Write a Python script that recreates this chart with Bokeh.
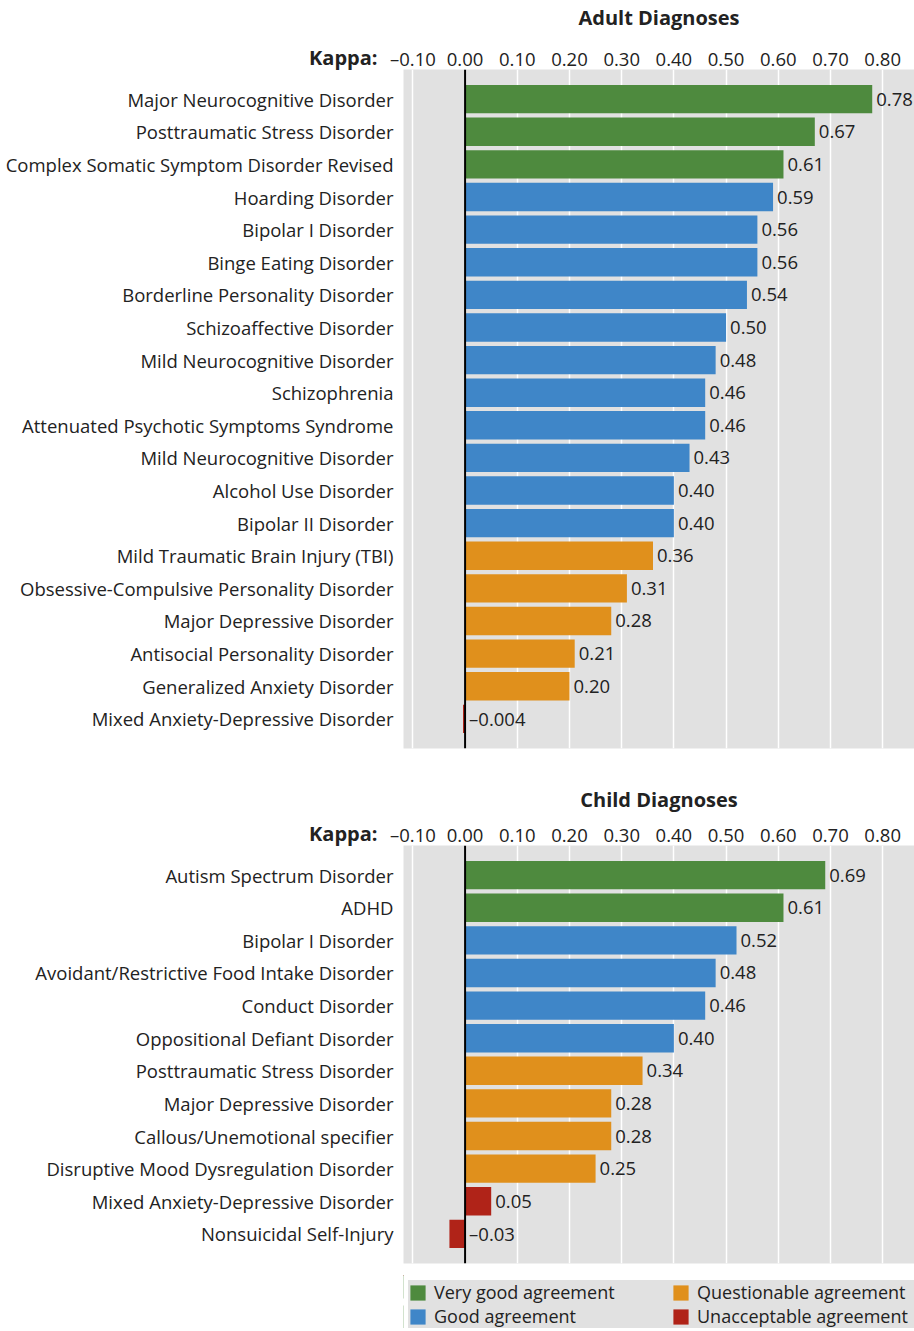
from bokeh.plotting import figure
from bokeh.models import (ColumnDataSource, Range1d, FixedTicker, Span,
                          Legend, LegendItem)
from bokeh.layouts import column
from bokeh.embed import file_html
from bokeh.resources import INLINE
from bokeh.core.properties import value

# ---------------- data ----------------
ADULT_LABELS = [
    "Major Neurocognitive Disorder",
    "Posttraumatic Stress Disorder",
    "Complex Somatic Symptom Disorder Revised",
    "Hoarding Disorder",
    "Bipolar I Disorder",
    "Binge Eating Disorder",
    "Borderline Personality Disorder",
    "Schizoaffective Disorder",
    "Mild Neurocognitive Disorder",
    "Schizophrenia",
    "Attenuated Psychotic Symptoms Syndrome",
    "Mild Neurocognitive Disorder",
    "Alcohol Use Disorder",
    "Bipolar II Disorder",
    "Mild Traumatic Brain Injury (TBI)",
    "Obsessive-Compulsive Personality Disorder",
    "Major Depressive Disorder",
    "Antisocial Personality Disorder",
    "Generalized Anxiety Disorder",
    "Mixed Anxiety-Depressive Disorder",
]
ADULT_KAPPA = [0.78, 0.67, 0.61, 0.59, 0.56, 0.56, 0.54, 0.50, 0.48, 0.46,
               0.46, 0.43, 0.40, 0.40, 0.36, 0.31, 0.28, 0.21, 0.20, -0.004]

CHILD_LABELS = [
    "Autism Spectrum Disorder",
    "ADHD",
    "Bipolar I Disorder",
    "Avoidant/Restrictive Food Intake Disorder",
    "Conduct Disorder",
    "Oppositional Defiant Disorder",
    "Posttraumatic Stress Disorder",
    "Major Depressive Disorder",
    "Callous/Unemotional specifier",
    "Disruptive Mood Dysregulation Disorder",
    "Mixed Anxiety-Depressive Disorder",
    "Nonsuicidal Self-Injury",
]
CHILD_KAPPA = [0.69, 0.61, 0.52, 0.48, 0.46, 0.40, 0.34, 0.28, 0.28, 0.25,
               0.05, -0.03]

TICK_VALUES = [-0.1, 0.0, 0.1, 0.2, 0.3, 0.4, 0.5, 0.6, 0.7, 0.8]
TICK_LABELS = ["\u20130.10", "0.00", "0.10", "0.20", "0.30", "0.40",
               "0.50", "0.60", "0.70", "0.80"]

CLASS_NAMES = ["Very good agreement", "Good agreement",
               "Questionable agreement", "Unacceptable agreement"]
CLASS_LOWER = [0.60, 0.40, 0.20, -1.0]
CLASS_COLORS = ["#4e8a3e", "#3f86c8", "#e0901c", "#b02318"]

KAPPA_TEXT = "Kappa:"

# ---------------- style ----------------
FONT = "Open Sans"
FS = "18.5px"
FS_LEG = "18px"
FS_BOLD = "20px"
TXT = "#222222"
BG = "#e1e1e1"
X_START, X_END = -0.118, 0.861
ROW_PAD = 0.91
BAR_H = 0.87
LEFT = 403
FRAME_W = 914 - LEFT


def fmt(v):
    s = f"{v:.3f}" if abs(v) < 0.01 else f"{v:.2f}"
    return s.replace("-", "\u2013")


def klass(v):
    for i, lo in enumerate(CLASS_LOWER):
        if v >= lo:
            return i
    return len(CLASS_LOWER) - 1


def make_panel(title, labels, kappa, frame_h, top_border, bottom_border,
               title_standoff):
    n = len(labels)
    p = figure(frame_width=FRAME_W, frame_height=frame_h,
               x_range=Range1d(X_START, X_END),
               y_range=Range1d(n - 1 + ROW_PAD, -ROW_PAD),
               x_axis_location="above",
               output_backend="svg", toolbar_location=None,
               min_border_left=LEFT, min_border_right=0,
               min_border_top=top_border, min_border_bottom=bottom_border)

    p.background_fill_color = BG
    p.border_fill_color = "white"
    p.outline_line_color = None

    p.xgrid.ticker = FixedTicker(ticks=TICK_VALUES)
    p.xgrid.grid_line_color = "white"
    p.xgrid.grid_line_width = 1.5
    p.ygrid.visible = False

    xa = p.xaxis[0]
    xa.ticker = FixedTicker(ticks=TICK_VALUES)
    xa.major_label_overrides = dict(zip(TICK_VALUES, TICK_LABELS))
    xa.axis_line_color = None
    xa.major_tick_line_color = None
    xa.minor_tick_line_color = None
    xa.major_tick_out = 0
    xa.major_label_standoff = -1
    xa.major_label_text_font = FONT
    xa.major_label_text_font_size = FS
    xa.major_label_text_color = TXT
    xa.axis_label = title
    xa.axis_label_standoff = title_standoff
    xa.axis_label_text_font = FONT
    xa.axis_label_text_font_size = FS_BOLD
    xa.axis_label_text_font_style = "bold"
    xa.axis_label_text_color = TXT

    ya = p.yaxis[0]
    ya.ticker = FixedTicker(ticks=list(range(n)))
    ya.major_label_overrides = {i: lab for i, lab in enumerate(labels)}
    ya.axis_line_color = None
    ya.major_tick_line_color = None
    ya.minor_tick_line_color = None
    ya.major_tick_out = 0
    ya.major_label_standoff = 10
    ya.major_label_text_font = FONT
    ya.major_label_text_font_size = FS
    ya.major_label_text_color = TXT

    sources = []
    for c in range(len(CLASS_NAMES)):
        idx = [i for i, v in enumerate(kappa) if klass(v) == c]
        src = ColumnDataSource(dict(y=idx, right=[kappa[i] for i in idx]))
        p.hbar(y="y", left=0, right="right", height=BAR_H, source=src,
               fill_color=CLASS_COLORS[c], line_color=None)
        sources.append(src)

    tsrc = ColumnDataSource(dict(x=[max(v, 0) for v in kappa],
                                 y=list(range(n)),
                                 t=[fmt(v) for v in kappa]))
    p.text(x="x", y="y", text="t", source=tsrc, x_offset=4,
           text_baseline="middle", text_align="left",
           text_font=value(FONT), text_font_size=FS, text_color=TXT)

    p.add_layout(Span(location=0, dimension="height", line_color="black",
                      line_width=2))

    # "Kappa:" caption on the tick-label row, left of the plot area
    ksrc = ColumnDataSource(dict(x=[X_START], y=[-ROW_PAD], t=[KAPPA_TEXT]))
    p.text(x="x", y="y", text="t", source=ksrc, x_offset=-26, y_offset=-12,
           text_align="right", text_baseline="middle",
           text_font=value(FONT), text_font_size=FS_BOLD,
           text_font_style="bold", text_color=TXT, level="overlay")
    return p, sources


p1, _ = make_panel("Adult Diagnoses", ADULT_LABELS, ADULT_KAPPA,
                   679, 69, 34, 12)
p2, child_sources = make_panel("Child Diagnoses", CHILD_LABELS, CHILD_KAPPA,
                               418, 60, 12, 6)

# ---------------- legend strip ----------------
p3 = figure(width=914, height=53, x_range=Range1d(2, 3),
            y_range=Range1d(0, 1), x_axis_type=None, y_axis_type=None,
            output_backend="svg", toolbar_location=None,
            min_border_left=LEFT, min_border_right=0,
            min_border_top=0, min_border_bottom=0)
p3.outline_line_color = None
p3.background_fill_color = "white"
p3.border_fill_color = "white"
leg_renderers = []
for c, src in enumerate(child_sources):
    r = p3.hbar(y="y", left=0, right="right", height=BAR_H, source=src,
                fill_color=CLASS_COLORS[c], line_color=None)
    leg_renderers.append(r)

legend = Legend(
    items=[LegendItem(label=CLASS_NAMES[c], renderers=[leg_renderers[c]])
           for c in range(len(CLASS_NAMES))],
    location="top_left", orientation="vertical", nrows=2,
    background_fill_color=BG, background_fill_alpha=1.0,
    border_line_color=None, padding=16, spacing=0, margin=5,
    glyph_width=19, glyph_height=19, label_standoff=7,
    label_width=237, label_height=24,
    label_text_font=FONT, label_text_font_size=FS_LEG, label_text_color=TXT,
)
p3.add_layout(legend)

layout = column(p1, p2, p3)
open("out.html", "w").write(file_html(layout, INLINE))
